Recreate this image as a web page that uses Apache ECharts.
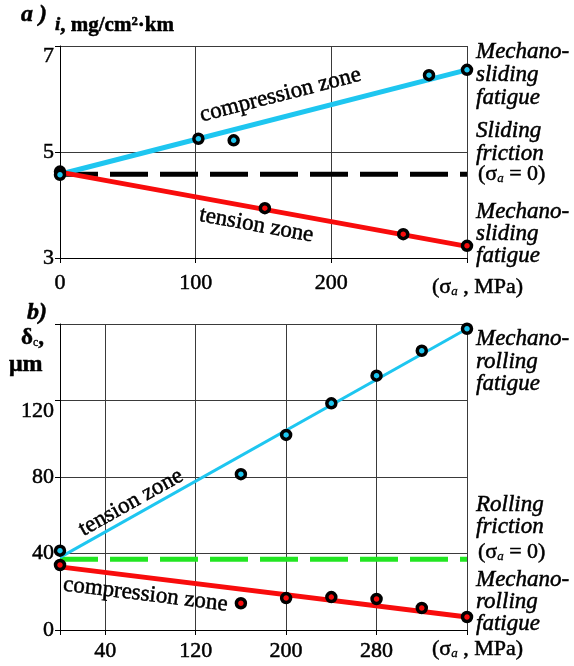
<!DOCTYPE html>
<html>
<head>
<meta charset="utf-8">
<script src="https://cdn.jsdelivr.net/npm/echarts@6/dist/echarts.min.js"></script>
<style>
  html, body { margin: 0; padding: 0; background: #fff; }
  #chart { width: 574px; height: 666px; }
</style>
</head>
<body>
<div id="chart"></div>
<script>
// ---- (a) sliding: wear intensity i vs. stress amplitude ----
const aXTicks = [0, 100, 200, 300];
const aYTicks = [3, 5, 7];
const aCompX = [0, 102, 128, 272, 300];
const aCompY = [4.57, 5.25, 5.22, 6.45, 6.55];
const aCompFitX = [0, 300];
const aCompFitY = [4.58, 6.55];
const aTensX = [0, 151, 253, 300];
const aTensY = [4.63, 3.94, 3.45, 3.23];
const aTensFitX = [0, 300];
const aTensFitY = [4.62, 3.22];
const aFrictionX = [0, 300];
const aFrictionY = [4.58, 4.58];

// ---- (b) rolling: contact deformation δc vs. stress amplitude ----
const bXTicks = [0, 40, 120, 200, 280, 360];
const bXLabels = [40, 120, 200, 280];
const bYTicks = [0, 40, 80, 120, 160];
const bTensX = [0, 160, 200, 240, 280, 320, 360];
const bTensY = [41.5, 81.5, 102, 118.5, 133, 146, 157.5];
const bTensFitX = [0, 360];
const bTensFitY = [38, 157.5];
const bCompX = [0, 160, 200, 240, 280, 320, 360];
const bCompY = [34, 14, 16.7, 17.2, 16.2, 11.5, 6.8];
const bCompFitX = [0, 360];
const bCompFitY = [33, 6.8];
const bFrictionX = [0, 360];
const bFrictionY = [37, 37];

const CYAN = '#1ec6f0';
const RED = '#f80c0c';
const GREEN = '#22e622';
const FONT = 'Liberation Serif';
// slightly heavier glyphs for the serif captions
const INK = { stroke: '#000', lineWidth: 0.5 };

const zip = (xs, ys) => xs.map((x, i) => [x, ys[i]]);

function fitLine(gi, xs, ys, color, width, dash) {
  return {
    type: 'line', xAxisIndex: gi, yAxisIndex: gi,
    data: zip(xs, ys), symbol: 'none', silent: true, z: 3,
    lineStyle: { color: color, width: width, type: dash || 'solid', cap: 'butt' }
  };
}
function points(gi, xs, ys, color) {
  return {
    type: 'scatter', xAxisIndex: gi, yAxisIndex: gi,
    data: zip(xs, ys), symbol: 'circle', symbolSize: 9, clip: false, z: 5,
    itemStyle: { color: color, borderColor: '#000', borderWidth: 3.5, opacity: 1 }
  };
}

const tickLabel = { color: '#000', fontFamily: FONT, fontSize: 22, textBorderColor: '#000', textBorderWidth: 0.5 };
// top labels of each value axis sit just below their grid line
const lowered = { low: { padding: [21, 0, 0, 0] } };
const axisLine = { show: true, lineStyle: { color: '#000', width: 1 } };
const axisTick = { show: true, inside: false, length: 5, lineStyle: { color: '#000', width: 1 } };
const splitLine = { show: true, lineStyle: { color: '#3a3a3a', width: 1 } };

const chart = echarts.init(document.getElementById('chart'), null, { renderer: 'canvas' });

chart.setOption({
  animation: false,
  backgroundColor: '#fff',
  grid: [
    { left: 60, top: 46, width: 407, height: 212, containLabel: false },
    { left: 60, top: 324, width: 407, height: 306, containLabel: false }
  ],
  xAxis: [
    {
      gridIndex: 0, type: 'value', min: aXTicks[0], max: aXTicks[aXTicks.length - 1], interval: 100,
      axisLine: axisLine, axisTick: axisTick, splitLine: splitLine,
      axisLabel: Object.assign({ margin: 14, formatter: v => (v === 300 ? '' : String(v)) }, tickLabel)
    },
    {
      gridIndex: 1, type: 'value', min: bXTicks[0], max: bXTicks[bXTicks.length - 1],
      axisLine: axisLine,
      axisTick: Object.assign({ customValues: bXTicks }, axisTick),
      splitLine: splitLine,
      axisLabel: Object.assign({ margin: 10, customValues: bXLabels }, tickLabel)
    }
  ],
  yAxis: [
    {
      gridIndex: 0, type: 'value', min: aYTicks[0], max: aYTicks[aYTicks.length - 1], interval: 2,
      axisLine: axisLine, axisTick: axisTick, splitLine: splitLine,
      axisLabel: Object.assign({ margin: 6, rich: lowered, formatter: v => (v === 7 ? '{low|7}' : String(v)) }, tickLabel)
    },
    {
      gridIndex: 1, type: 'value', min: bYTicks[0], max: bYTicks[bYTicks.length - 1], interval: 40,
      axisLine: axisLine, axisTick: axisTick, splitLine: splitLine,
      axisLabel: Object.assign({ margin: 6, rich: lowered, formatter: v => (v === 160 ? '' : v === 120 ? '{low|120}' : String(v)) }, tickLabel)
    }
  ],
  series: [
    fitLine(0, aFrictionX, aFrictionY, '#000', 5, [38, 12]),
    fitLine(0, aCompFitX, aCompFitY, CYAN, 5),
    fitLine(0, aTensFitX, aTensFitY, RED, 5),
    points(0, aTensX, aTensY, RED),
    points(0, aCompX, aCompY, CYAN),
    fitLine(1, bFrictionX, bFrictionY, GREEN, 5, [38, 12]),
    fitLine(1, bTensFitX, bTensFitY, CYAN, 3),
    fitLine(1, bCompFitX, bCompFitY, RED, 5),
    points(1, bTensX, bTensY, CYAN),
    points(1, bCompX, bCompY, RED)
  ]
});

// ---- annotations ----
const sub = { fontFamily: FONT, fontSize: 13, fontStyle: 'italic', fill: '#000', padding: [9, 0, 0, 0], lineHeight: 15, stroke: '#000', lineWidth: 0.3 };

function text(x, y, str, opt) {
  return {
    type: 'text', x: x, y: y, silent: true, z: 10,
    style: Object.assign({
      text: str, fill: '#000', fontFamily: FONT, fontSize: 23,
      textAlign: 'left', textVerticalAlign: 'top', lineHeight: 23
    }, INK, opt || {})
  };
}

// zone captions laid along their fitted lines
function along(gi, fx, fy, t, offset, str) {
  const p0 = chart.convertToPixel({ gridIndex: gi }, [fx[0], fy[0]]);
  const p1 = chart.convertToPixel({ gridIndex: gi }, [fx[1], fy[1]]);
  const ang = Math.atan2(-(p1[1] - p0[1]), p1[0] - p0[0]);
  const cx = p0[0] + (p1[0] - p0[0]) * t;
  const cy = p0[1] + (p1[1] - p0[1]) * t;
  return {
    type: 'text', silent: true, z: 10,
    x: cx - Math.sin(ang) * offset,
    y: cy - Math.cos(ang) * offset,
    rotation: ang,
    style: Object.assign({ text: str, fill: '#000', fontFamily: FONT, fontSize: 23, textAlign: 'center', textVerticalAlign: 'middle' }, INK)
  };
}

const it = { fontStyle: 'italic' };
const sigmaRich = { fontSize: 22, rich: { s: sub } };

chart.setOption({
  graphic: [
    // (a)
    text(21, 3, 'a )', { fontStyle: 'italic', fontWeight: 'bold', fontSize: 24 }),
    text(55, 14, '{i|i}, mg/cm²·km', { fontWeight: 'bold', fontSize: 21, rich: { i: { fontFamily: FONT, fontSize: 19, fontStyle: 'italic', fontWeight: 'bold', fill: '#000' } } }),
    text(476, 40, 'Mechano-\nsliding\nfatigue', it),
    text(476, 119, 'Sliding\nfriction', it),
    text(478, 163, '(σ{s|a} = 0)', sigmaRich),
    text(476, 201, 'Mechano-\nsliding\nfatigue', Object.assign({ lineHeight: 22 }, it)),
    text(432, 276, '(σ{s|a} , MPa)', sigmaRich),
    along(0, aCompFitX, aCompFitY, 0.555, 22, 'compression zone'),
    along(0, aTensFitX, aTensFitY, 0.49, -17, 'tension zone'),
    // (b)
    text(27, 301, 'b)', { fontStyle: 'italic', fontWeight: 'bold', fontSize: 24 }),
    text(21, 327, 'δ{s|c},', { fontWeight: 'bold', rich: { s: Object.assign({}, sub, { fontStyle: 'normal', fontSize: 12 }) } }),
    text(9, 353, 'μm', { fontWeight: 'bold', fontSize: 24 }),
    text(476, 328, 'Mechano-\nrolling\nfatigue', Object.assign({ lineHeight: 22.5 }, it)),
    text(476, 494, 'Rolling\nfriction', Object.assign({ lineHeight: 22 }, it)),
    text(478, 541, '(σ{s|a} = 0)', sigmaRich),
    text(476, 569, 'Mechano-\nrolling\nfatigue', Object.assign({ lineHeight: 22 }, it)),
    text(432, 638, '(σ{s|a} , MPa)', sigmaRich),
    along(1, bTensFitX, bTensFitY, 0.19, 13, 'tension zone'),
    along(1, bCompFitX, bCompFitY, 0.215, -17, 'compression zone')
  ]
});
</script>
</body>
</html>
